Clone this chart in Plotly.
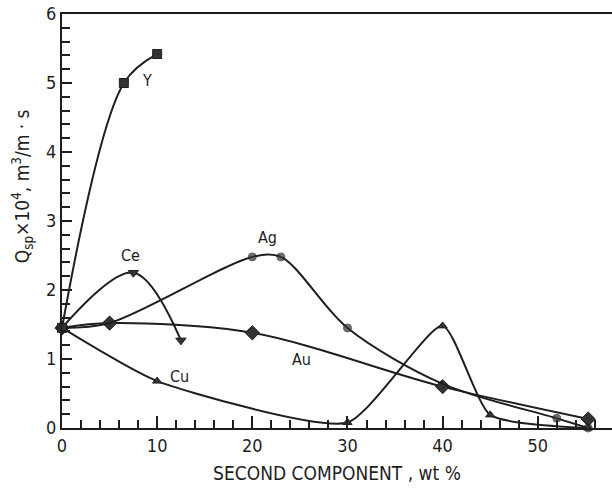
import plotly.graph_objects as go

# ---- data ----
y_x = [0, 6.5, 10]
y_y = [1.45, 5.0, 5.42]

ce_x = [0, 7.5, 12.5]
ce_y = [1.45, 2.25, 1.27]

ag_x = [0, 5, 20, 23, 30, 40, 52, 55.3]
ag_y = [1.45, 1.52, 2.48, 2.48, 1.45, 0.64, 0.14, 0.0]
ag_size = [0, 0, 8, 8, 8, 0, 8, 8]

au_x = [0, 5, 20, 40, 55.3]
au_y = [1.45, 1.52, 1.38, 0.6, 0.13]

cu_x = [0, 10, 30, 40, 45, 55.3]
cu_y = [1.45, 0.68, 0.08, 1.48, 0.19, 0.0]

labels = ["Y", "Ce", "Ag", "Au", "Cu"]
label_x = [8.9, 7.2, 21.6, 25.2, 12.4]
label_y = [5.04, 2.5, 2.76, 0.99, 0.74]

x_ticks = [0, 10, 20, 30, 40, 50]
y_ticks = [0, 1, 2, 3, 4, 5, 6]

INK = "#1e1e1e"
FONT = "DejaVu Sans Condensed, Liberation Sans, Arial, sans-serif"

fig = go.Figure()

def add(x, y, symbol, size, smoothing=1.0):
    fig.add_trace(go.Scatter(
        x=x, y=y, mode="lines+markers",
        line=dict(color=INK, width=2, shape="spline", smoothing=smoothing),
        marker=dict(symbol=symbol, size=size, color="#333333",
                    line=dict(color=INK, width=1)),
        showlegend=False, cliponaxis=False,
    ))

add(au_x, au_y, "diamond", 11, 0.9)
add(ag_x, ag_y, "circle", ag_size, 0.9)
add(cu_x, cu_y, "triangle-up", 8, 0.55)
add(ce_x, ce_y, "triangle-down", 9, 1.0)
add(y_x, y_y, "square", 9, 1.0)

for t, lx, ly in zip(labels, label_x, label_y):
    fig.add_annotation(x=lx, y=ly, text=t, showarrow=False,
                       font=dict(family=FONT, size=16, color=INK))

fig.add_annotation(
    xref="paper", yref="paper", x=-0.072, y=0.585, xanchor="center", yanchor="middle",
    text="Q<sub>sp</sub>×10<sup>4</sup>, m<sup>3</sup>/m · s",
    textangle=-90, showarrow=False,
    font=dict(family=FONT, size=19, color=INK))

fig.update_layout(
    width=612, height=490,
    margin=dict(l=62, r=0, t=14, b=62),
    paper_bgcolor="white", plot_bgcolor="white",
    font=dict(family=FONT, color=INK),
    xaxis=dict(
        range=[0, 57.8], tickvals=x_ticks, ticks="inside", ticklen=12, tickwidth=2,
        tickcolor=INK, showline=True, linecolor=INK, linewidth=2, mirror=True,
        showgrid=False, zeroline=False,
        tickfont=dict(family=FONT, size=18, color=INK),
        minor=dict(dtick=2, ticks="inside", ticklen=8, tickwidth=1.5, tickcolor=INK),
        title=dict(text="SECOND COMPONENT , wt %", font=dict(family=FONT, size=19, color=INK),
                   standoff=12),
    ),
    yaxis=dict(
        range=[0, 6], tickvals=y_ticks, ticks="inside", ticklen=10, tickwidth=2,
        tickcolor=INK, showline=True, linecolor=INK, linewidth=2,
        showgrid=False, zeroline=False,
        tickfont=dict(family=FONT, size=18, color=INK),
        minor=dict(dtick=0.2, ticks="inside", ticklen=8, tickwidth=1.5, tickcolor=INK),
    ),
)

fig.write_html("out.html")
